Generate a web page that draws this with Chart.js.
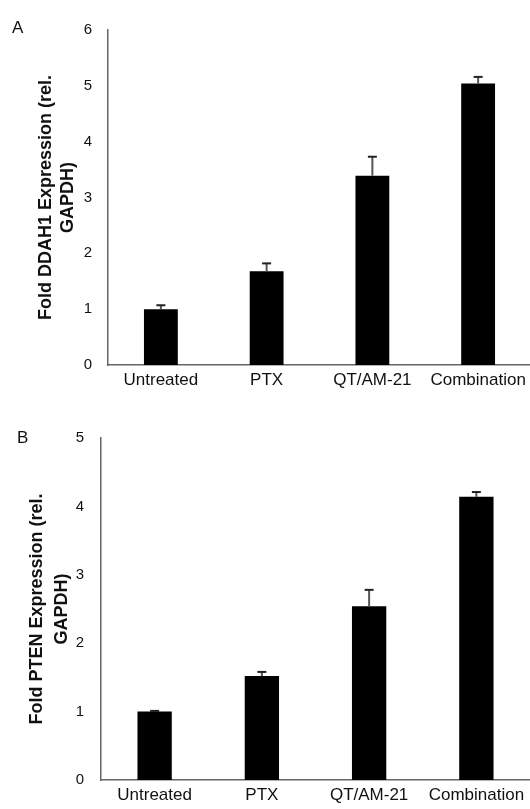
<!DOCTYPE html>
<html>
<head>
<meta charset="utf-8">
<script src="https://cdn.jsdelivr.net/npm/chart.js@4/dist/chart.umd.min.js"></script>
<style>
  html, body { margin: 0; padding: 0; background: #fff; overflow: hidden; width: 530px; height: 809px; }
  .panel { position: absolute; left: 0; }
  .letter { position: absolute; font-family: "Liberation Sans", Arial, sans-serif; font-size: 17px; color: #111; line-height: 1; }
</style>
</head>
<body>
<div class="panel" style="top:0;width:532px;height:400px;"><canvas id="chartA" width="532" height="400"></canvas></div>
<div class="panel" style="top:400px;width:532px;height:409px;"><canvas id="chartB" width="532" height="409"></canvas></div>
<div class="letter" style="left:12px;top:19px;">A</div>
<div class="letter" style="left:17px;top:429px;">B</div>
<script>
const categories = ["Untreated", "PTX", "QT/AM-21", "Combination"];
const ddah1Values = [1.00, 1.68, 3.39, 5.04];
const ddah1Errors = [0.07, 0.14, 0.34, 0.12];
const ptenValues = [1.00, 1.52, 2.54, 4.14];
const ptenErrors = [0.01, 0.06, 0.24, 0.07];
const ddah1Title = ["Fold DDAH1 Expression (rel.", "GAPDH)"];
const ptenTitle = ["Fold PTEN Expression (rel.", "GAPDH)"];
const ddah1Max = 6;
const ptenMax = 5;

const FONT = "'Liberation Sans', Arial, sans-serif";

const errorBarPlugin = {
  id: 'errorBars',
  afterDatasetsDraw(chart, args, opts) {
    const ctx = chart.ctx;
    const y = chart.scales.y;
    const meta = chart.getDatasetMeta(0);
    const vals = chart.data.datasets[0].data;
    const errs = opts.errors || [];
    ctx.save();
    meta.data.forEach((bar, i) => {
      const top = y.getPixelForValue(vals[i] + errs[i]);
      ctx.strokeStyle = '#555';
      ctx.lineWidth = 2;
      ctx.beginPath();
      ctx.moveTo(bar.x, bar.y);
      ctx.lineTo(bar.x, top);
      ctx.stroke();
      ctx.strokeStyle = '#222';
      ctx.lineWidth = 2;
      ctx.beginPath();
      ctx.moveTo(bar.x - 4.5, top);
      ctx.lineTo(bar.x + 4.5, top);
      ctx.stroke();
    });
    ctx.restore();
  }
};

function makeChart(id, values, errors, title, yMax, cfg) {
  return new Chart(document.getElementById(id), {
    type: 'bar',
    data: {
      labels: categories,
      datasets: [{
        data: values,
        backgroundColor: '#000',
        borderWidth: 0,
        barPercentage: 0.32,
        categoryPercentage: 1.0
      }]
    },
    options: {
      responsive: false,
      animation: false,
      events: [],
      layout: { padding: { top: cfg.top, right: cfg.right, left: 0, bottom: 0 } },
      plugins: {
        legend: { display: false },
        tooltip: { enabled: false },
        errorBars: { errors: errors }
      },
      scales: {
        x: {
          grid: { display: false, drawTicks: false },
          border: { display: true, color: '#666', width: 1.5 },
          ticks: { color: '#111', font: { family: FONT, size: 17 }, padding: cfg.xp, maxRotation: 0, autoSkip: false },
          afterFit(s) { s.height = cfg.xh; }
        },
        y: {
          min: 0, max: yMax,
          grid: { display: false, drawTicks: false },
          border: { display: true, color: '#666', width: 1.5 },
          ticks: { stepSize: 1, color: '#111', font: { family: FONT, size: 15 }, padding: cfg.tp },
          title: {
            display: true, text: title, color: '#111',
            font: { family: FONT, size: 18, weight: 'bold', lineHeight: cfg.lh },
            padding: { top: cfg.titlePad, bottom: 0 }
          },
          afterFit(s) { s.width = cfg.left; }
        }
      }
    },
    plugins: [errorBarPlugin]
  });
}

makeChart('chartA', ddah1Values, ddah1Errors, ddah1Title, ddah1Max,
  { top: 30, right: 1, xh: 35, left: 108, tp: 16, lh: 1.17, titlePad: 36, xp: 5 });
makeChart('chartB', ptenValues, ptenErrors, ptenTitle, ptenMax,
  { top: 38, right: 2, xh: 29, left: 101, tp: 17, lh: 1.39, titlePad: 25, xp: 5 });
</script>
</body>
</html>
